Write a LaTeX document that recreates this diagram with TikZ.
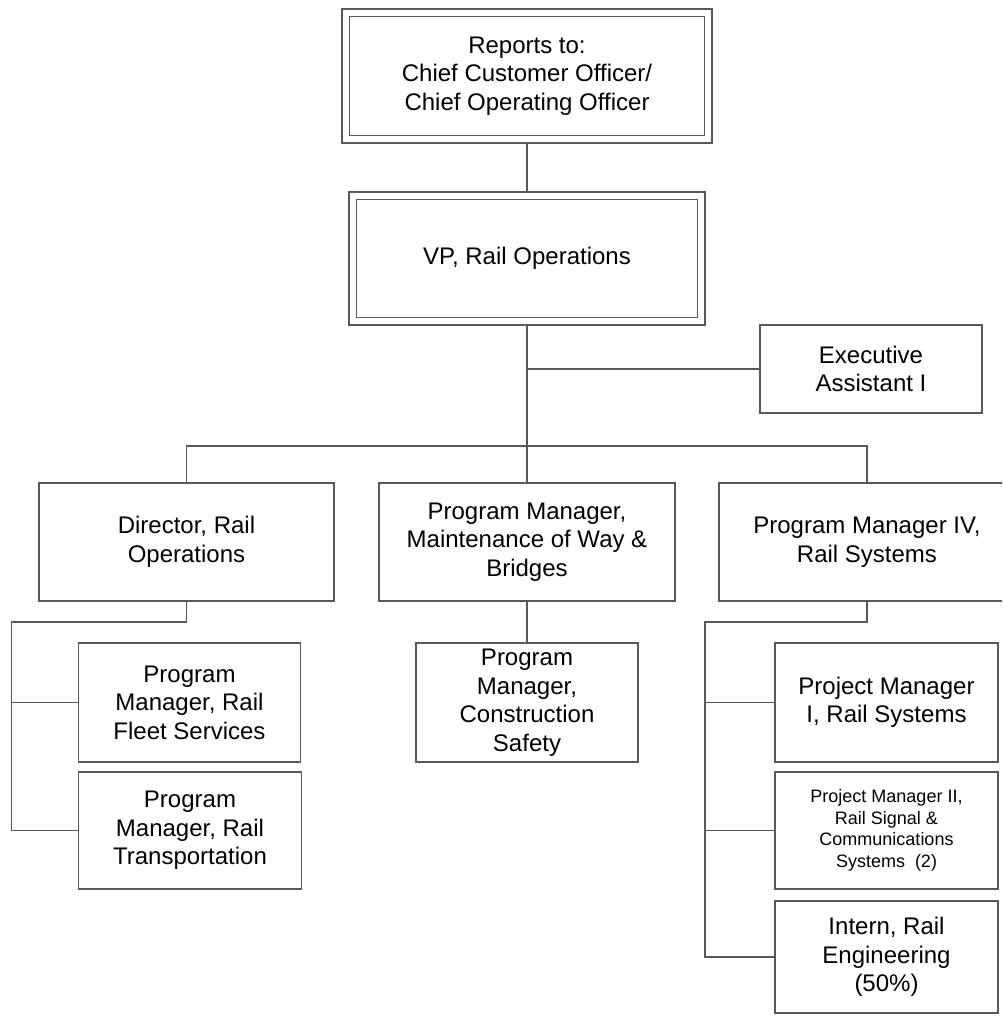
\documentclass[tikz,border=0pt]{standalone}
\usepackage{fontspec}
\setmainfont{Liberation Sans}
\definecolor{linegray}{RGB}{88,88,88}
\begin{document}
\begin{tikzpicture}[x=1pt,y=-1pt,
  line/.style={draw=linegray, line width=1.7pt},
  box/.style={line, rectangle, inner sep=0pt, outer sep=0pt, align=center,
    text=black, font=\fontsize{24}{28.5}\selectfont},
  small/.style={font=\fontsize{18}{21.5}\selectfont}]
\useasboundingbox (0,0) rectangle (1002,1017);
\clip (0,0) rectangle (1002,1017);

% top of the chart
\node[box, minimum width=370pt, minimum height=134pt] (top) at (527,76)
  {Reports to:\\Chief Customer Officer/\\Chief Operating Officer};
\draw[line] ([shift={(7.5pt,7.5pt)}]top.south west) rectangle ([shift={(-7.5pt,-7.5pt)}]top.north east);

\node[box, minimum width=356pt, minimum height=133pt] (vp) at (527,258.5)
  {VP, Rail Operations};
\draw[line] ([shift={(7.5pt,7.5pt)}]vp.south west) rectangle ([shift={(-7.5pt,-7.5pt)}]vp.north east);

\node[box, minimum width=222pt, minimum height=88pt] (exec) at (871,369)
  {Executive\\Assistant I};

% second level
\node[box, minimum width=295pt, minimum height=118pt] (dir) at (186.5,542)
  {Director, Rail\\Operations};
\node[box, minimum width=296pt, minimum height=118pt] (maint) at (527,542)
  {Program Manager,\\Maintenance of Way \&\\Bridges};
\node[box, minimum width=296pt, minimum height=118pt] (pmiv) at (867,542)
  {Program Manager IV,\\Rail Systems};

% third level
\node[box, minimum width=222pt, minimum height=119pt] (fleet) at (189.5,702.5)
  {Program\\Manager, Rail\\Fleet Services};
\node[box, minimum width=223pt, minimum height=117pt] (trans) at (190,830.5)
  {Program\\Manager, Rail\\Transportation};
\node[box, minimum width=222pt, minimum height=119pt] (cons) at (527,702.5)
  {Program\\Manager,\\Construction\\Safety};
\node[box, minimum width=223pt, minimum height=119pt] (pmi) at (886.5,702.5)
  {Project Manager\\I, Rail Systems};
\node[box, small, minimum width=223pt, minimum height=117pt] (pmii) at (886.5,830.5)
  {Project Manager II,\\Rail Signal \&\\Communications\\Systems~~(2)};
\node[box, minimum width=223pt, minimum height=112pt] (intern) at (886.5,957)
  {Intern, Rail\\Engineering\\(50\%)};

% connectors
\coordinate (bus) at (527,446);
\coordinate (dirrail) at (11.5,622);
\coordinate (sysrail) at (705,622);

\draw[line] (top.south) -- (vp.north);
\draw[line] (vp.south) -- (maint.north);
\draw[line] (vp.south |- exec.west) -- (exec.west);
\draw[line] (dir.north) |- (bus) -| (pmiv.north);
\draw[line] (maint.south) -- (cons.north);

\draw[line] (dir.south) |- (dirrail) |- (trans.west);
\draw[line] (dirrail |- fleet.west) -- (fleet.west);

\draw[line] (pmiv.south) |- (sysrail) |- (intern.west);
\draw[line] (sysrail |- pmi.west) -- (pmi.west);
\draw[line] (sysrail |- pmii.west) -- (pmii.west);
\end{tikzpicture}
\end{document}
